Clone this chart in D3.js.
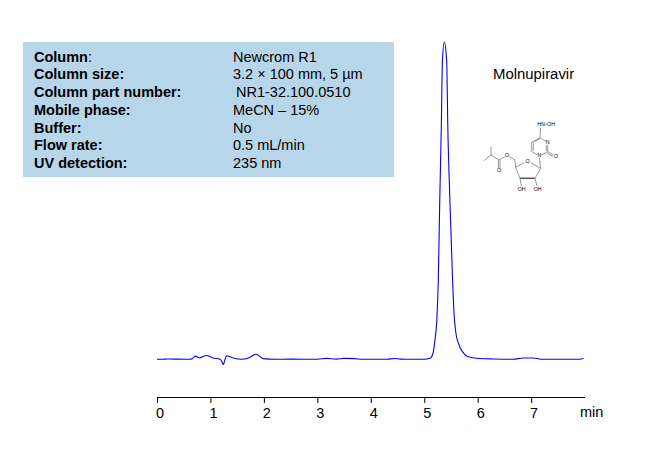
<!DOCTYPE html>
<html>
<head>
<meta charset="utf-8">
<script src="https://cdn.jsdelivr.net/npm/d3@7"></script>
<style>
html,body{margin:0;padding:0;background:#fff}
svg{display:block}
text{font-family:"Liberation Sans",Arial,sans-serif;fill:#000}
</style>
</head>
<body>
<svg id="chart" width="670" height="465"></svg>
<script>
const times = [0,0.1,0.2,0.3,0.4,0.6,0.66,0.71,0.8,0.92,1.05,1.18,1.21,1.24,1.27,1.3,1.41,1.58,1.71,1.85,1.99,2.2,2.5,3.0,3.17,3.35,3.5,3.7,3.85,4.3,4.45,4.55,5.0,5.107,5.164,5.2,5.235,5.263,5.29,5.32,5.34,5.375,5.42,5.44,5.48,5.53,5.557,5.586,5.64,5.725,5.82,6.04,6.3,6.66,6.85,7.04,7.22,7.6,7.91,7.98];
const signal = [0,0,0.1,0.05,0.05,0,0.15,1.0,0.5,1.2,0.4,0,-0.6,-1.7,-0.2,1.1,0.5,0,0.4,1.6,0.2,0,0.05,0,0.3,0.05,0.3,0.2,0,0,0.25,0.05,0,0.3,1.9,6,12.3,25,50,74,94,100,94,74,50,25,14.5,9,5,2.2,0.8,0.25,0.1,0,0.4,0.4,0,0,0,0.3];
const tickValues = [0,1,2,3,4,5,6,7];
const infoLabels = ["Column","Column size:","Column part number:","Mobile phase:","Buffer:","Flow rate:","UV detection:"];
const infoValues = ["Newcrom R1","3.2 × 100 mm, 5 µm"," NR1-32.100.0510","MeCN – 15%","No","0.5 mL/min","235 nm"];
const compoundName = "Molnupiravir";
const axisUnit = "min";

const svg = d3.select("#chart");
const x = d3.scaleLinear().domain([0,8]).range([157,584.6]);
const y = d3.scaleLinear().domain([0,100]).range([359.3,42]);

// info panel
svg.append("rect").attr("x",23).attr("y",42).attr("width",371).attr("height",135).attr("fill","#b8d6ea");
const rowY = d3.scaleLinear().domain([0,6]).range([61.5,168]);
const rows = svg.append("g").attr("font-size",14.5);
const labelText = rows.selectAll("text.l").data(infoLabels).join("text").attr("class","l")
  .attr("x",34).attr("y",(d,i)=>rowY(i));
labelText.append("tspan").attr("font-weight","bold").text(d=>d);
labelText.filter((d,i)=>i===0).append("tspan").text(":");
rows.selectAll("text.v").data(infoValues).join("text").attr("class","v")
  .attr("x",d=>d.startsWith(" ")?236:233).attr("y",(d,i)=>rowY(i)).text(d=>d.trim());

// trace
const line = d3.line().x((d,i)=>x(times[i])).y(d=>y(d)).curve(d3.curveMonotoneX);
svg.append("path").datum(signal).attr("d",line).attr("fill","none").attr("stroke","#0000ff").attr("stroke-width",1.1);

// axis
const axis = d3.axisBottom(x).tickValues(tickValues).tickSize(6).tickSizeOuter(0).tickPadding(4.3).tickFormat(d3.format("d"));
const ag = svg.append("g").attr("transform","translate(0,397)").call(axis);
ag.select(".domain").attr("stroke","#000").attr("stroke-width",1.2);
ag.selectAll(".tick line").attr("stroke","#000").attr("stroke-width",1);
ag.selectAll(".tick text").attr("font-size",14.5).attr("font-family",'"Liberation Sans",Arial,sans-serif').attr("dx",2.5).attr("fill","#000");
svg.append("text").attr("x",580).attr("y",417).attr("font-size",14.5).text(axisUnit);

// compound
svg.append("text").attr("x",493).attr("y",79).attr("font-size",14.9).text(compoundName);
const mol = svg.append("g").attr("transform","translate(470,110) scale(0.3333)")
  .attr("stroke","#555").attr("stroke-width",1.8).attr("fill","none").attr("stroke-linejoin","round");
const bonds = "M210 83L212 54M210 83L228 94M233 104L233 125M233 125L214 135M202 135L185 125M185 125L185 97M185 97L210 83"
 +"M190 122L190 100M190 97L210 86M229 123L229 106M233 125L251 135M231 129L249 139"
 +"M208 143L212 175M212 175L182 158M163 158L137 172M137 172L150 205M150 205L195 205M195 205L212 175"
 +"M150 205L154 228M195 205L201 228M137 172L135 150M135 150L118 140M105 140L87 150M85 150L85 174M90 150L90 174M87 150L63 135M63 135L63 110M63 135L42 152";
mol.append("path").attr("d",bonds);
mol.append("path").attr("d","M150 205L195 205").attr("stroke-width",4);
const atoms = [["HN",213,47],["OH",243,47],["N",233,101],["N",208,142],["O",258,143],["O",173,160],["O",111,142],["O",87,186],["OH",155,242],["OH",203,242]];
mol.selectAll("text").data(atoms).join("text")
  .attr("x",d=>d[1]).attr("y",d=>d[2]).attr("text-anchor","middle")
  .attr("font-size",16).attr("stroke","none").attr("fill","#333").text(d=>d[0]);
mol.append("path").attr("d","M224 43L232 43");
</script>
</body>
</html>
